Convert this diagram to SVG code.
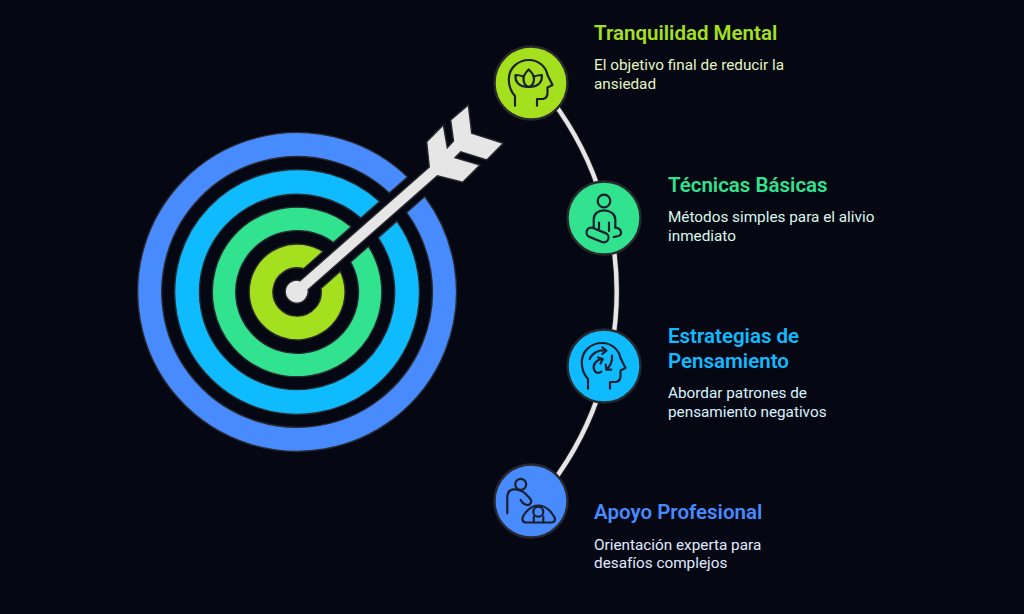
<svg xmlns="http://www.w3.org/2000/svg" width="1024" height="614" viewBox="0 0 1024 614">
<style>
.ring{stroke:#2a2a2f;stroke-width:1.4}
.shape{fill:#e6e6e6;stroke:#2a2a2f;stroke-width:1.4;stroke-linejoin:miter}
.halo{fill:none;stroke:#2a2a2f;stroke-width:6}
.line{fill:none;stroke:#e6e6e6;stroke-width:4.4}
.node{stroke:#28282d;stroke-width:2.4}
.ic{fill:none;stroke:#1b2030;stroke-width:2.2;stroke-linecap:round;stroke-linejoin:round}
text{font-family:Roboto,"Liberation Sans",sans-serif}
.t{font-size:20.5px;font-weight:600}
.b{font-size:15.3px}
</style>
<defs>
<path id="head" class="ic" d="M515 105.700V96C510.500 91 508.700 85 508.800 79C509 68 518 60 529 60C539 60 546 67 547.500 75L552.500 85L547.500 87.500V93Q547.500 98 543 99H537V105.700"/>
</defs>
<rect width="1024" height="614" fill="#050713"/>
<g id="target" transform="translate(297.1 292) scale(1.006) translate(-296.7 -291.7)">
<path class="ring" fill="#478bff" d="M423.63 196.77A158.500 158.500 0 1 1 406.41 177.29L388.36 193.26A134.500 134.500 0 1 0 405.58 212.74Z"/>
<path class="ring" fill="#0fbbff" d="M395.94 221.27A121.700 121.700 0 1 1 378.72 201.79L360.08 218.27A97 97 0 1 0 377.30 237.75Z"/>
<path class="ring" fill="#31e28f" d="M367.69 246.25A84.300 84.300 0 1 1 350.47 226.77L332.73 242.47A61 61 0 1 0 349.95 261.95Z"/>
<path class="ring" fill="#a5e01f" d="M339.69 271.03A47.700 47.700 0 1 1 322.47 251.55L303.20 268.60A24 24 0 1 0 320.42 288.08Z"/>
</g>
<g id="arrow">
<path class="shape" d="M426.700 141.700L443.300 125L447.300 147.700L453.500 141L450.700 120L468.300 105L471.700 133.300L503.300 143.300L486.700 160L460.700 151.700L455 157.700L480 165L462.700 182.300L437.400 175.750L308.030 289.690A11.500 11.500 0 1 1 300.070 280.710L429.300 167Z"/>
</g>
<g id="connectors">
<path class="halo" d="M551.700 100A319 319 0 0 1 602.200 200"/>
<path class="line" d="M551.700 100A319 319 0 0 1 602.200 200"/>
<path class="halo" d="M610.700 230A320 320 0 0 1 611.300 350"/>
<path class="line" d="M610.700 230A320 320 0 0 1 611.300 350"/>
<path class="halo" d="M601.700 385A319 319 0 0 1 550.500 485"/>
<path class="line" d="M601.700 385A319 319 0 0 1 550.500 485"/>
</g>
<g id="node-tranquilidad">
<circle class="node" cx="531" cy="83" r="36.500" fill="#a5e01f"/>
<use href="#head"/>
<path class="ic" d="M528.700 69.500C525 73 523.500 76 523.500 79C523.500 83 526 86 528.700 87C531.500 86 534 83 534 79C534 76 532.500 73 528.700 69.500Z"/>
<path class="ic" d="M523.800 76.500C520.500 75.500 518 75 515.500 75C515 80 517 87 528.700 87C540.400 87 542.400 80 541.800 75C539.500 75 537 75.500 533.600 76.500"/>
<text class="t" x="594" y="40" fill="#a5e01f">Tranquilidad Mental</text>
<text class="b" x="594" y="70" fill="#e4f6c4">El objetivo final de reducir la</text>
<text class="b" x="594" y="89" fill="#e4f6c4">ansiedad</text>
</g>
<g id="node-tecnicas">
<circle class="node" cx="604" cy="218" r="36.500" fill="#31e28f"/>
<circle class="ic" cx="604" cy="201" r="6.300"/>
<path class="ic" d="M593.700 227.700V219.500C593.700 214 598 210.300 604 210.300C610 210.300 615.300 214 615.300 219.500V227.700"/>
<path class="ic" d="M599 222.700V228.700M609 222.700V231"/>
<rect class="ic" x="586" y="230.250" width="23" height="9.500" rx="4.750" transform="rotate(22 597.500 235)"/>
<path class="ic" d="M615.500 227.500L618 228.300C622 230 622 235 618.500 236L613.700 237"/>
<text class="t" x="668" y="192" fill="#31e28f">Técnicas Básicas</text>
<text class="b" x="668" y="222" fill="#dcf9eb">Métodos simples para el alivio</text>
<text class="b" x="668" y="241" fill="#dcf9eb">inmediato</text>
</g>
<g id="node-estrategias">
<circle class="node" cx="604" cy="366" r="36.500" fill="#0fbbff"/>
<use href="#head" transform="translate(73 283)"/>
<path class="ic" d="M589.700 359C593 352 600 349.500 606.300 350.700M602.300 347.300L606.300 350.700L602.300 354"/>
<path class="ic" d="M602.300 359C596 359.500 592.500 365 594 369.500C595.500 373.500 599 373.500 601.300 371.700M598 357.500L602.800 359L600.500 363.500"/>
<path class="ic" d="M612 355.700C612.500 361 610.500 366 606.300 369.700M605.700 364.700L606.300 369.700H611.300"/>
<text class="t" x="668" y="343" fill="#0fbbff">Estrategias de</text>
<text class="t" x="668" y="368" fill="#0fbbff">Pensamiento</text>
<text class="b" x="668" y="398" fill="#dbf3ff">Abordar patrones de</text>
<text class="b" x="668" y="417" fill="#dbf3ff">pensamiento negativos</text>
</g>
<g id="node-apoyo">
<circle class="node" cx="531" cy="501" r="36.500" fill="#478bff"/>
<circle class="ic" cx="520.700" cy="484.300" r="5.500"/>
<path class="ic" d="M507.300 513.300V498.300C507.300 492.500 510 489.300 514 489.300C518 489.300 522 490.500 525 493.300L530 498.500C532.500 501.500 530.500 505.500 527.300 505C524.500 504.500 522 502.500 520.700 500"/>
<path class="ic" d="M526 522.500H551.500C555 522.500 556 519 554 516.500C550 509.500 544 505.500 538.300 505.500C532 505.500 527 510 523.500 515.500C521.500 519 522.500 522.500 526 522.500Z"/>
<circle class="ic" cx="538.300" cy="511.700" r="5"/>
<path class="ic" d="M533.800 522.500V516.500M543.300 522.500V516.500"/>
<text class="t" x="594" y="519" fill="#478bff">Apoyo Profesional</text>
<text class="b" x="594" y="550" fill="#e0ebff">Orientación experta para</text>
<text class="b" x="594" y="568" fill="#e0ebff">desafíos complejos</text>
</g>
</svg>
